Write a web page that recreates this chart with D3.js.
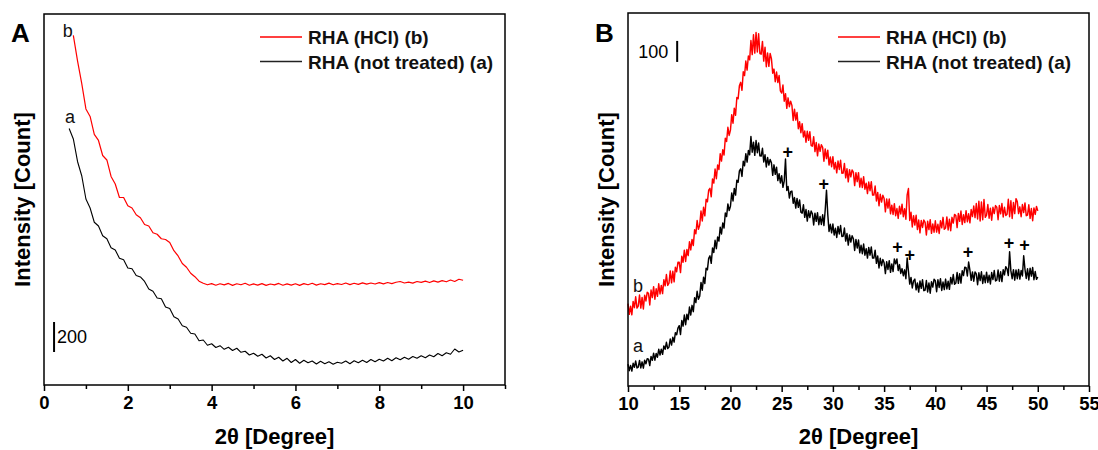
<!DOCTYPE html>
<html>
<head>
<meta charset="utf-8">
<script src="https://cdn.jsdelivr.net/npm/d3@7"></script>
<style>
  body { margin: 0; background: #fff; }
  svg { display: block; font-family: "Liberation Sans", Arial, sans-serif; }
</style>
</head>
<body>
<svg id="chart" width="1098" height="450"></svg>
<script>
// ---- panel A data (2theta step 0.1) ----
var aX0 = 0.6;
var aBlack = [1710,1640,1490,1395,1240,1180,1085,1060,995,975,915,900,845,835,780,775,730,720,690,640,
  625,580,575,520,510,455,440,395,385,345,340,295,300,265,275,250,262,238,252,230,
  245,218,225,200,212,192,205,180,195,170,185,160,178,150,170,145,165,148,160,140,
  158,142,155,138,152,145,160,142,162,148,165,150,170,155,172,160,178,162,182,168,
  185,172,190,178,195,182,200,188,210,195,215,205,240,220,232];
var bX0 = 0.7;
var aRed = [2330,2160,2010,1840,1790,1670,1630,1530,1500,1390,1340,1250,1250,1195,1180,1135,1115,1070,1060,1015,
  1005,975,970,950,895,860,810,785,745,722,692,678,668,676,665,675,667,677,664,675,
  668,678,665,674,666,676,664,673,667,677,665,674,666,675,664,676,668,678,666,675,
  669,679,668,676,670,680,669,678,671,681,672,680,673,682,674,683,676,685,690,680,
  686,679,690,684,692,683,694,686,696,688,700,690,705,698];

// ---- panel B data (2theta step 0.125, from 10 to 50; one row per degree) ----
var bStart = 10;
var bRed = [
  392,341,380,339,403,373,425,371,  380,433,371,422,367,432,405,446,
  441,386,457,421,473,413,463,427,  487,438,479,440,506,477,531,479,
  490,548,491,546,496,566,544,589,  589,540,618,589,647,593,650,621,
  687,648,698,669,744,725,788,746,  766,833,786,851,810,889,877,932,
  941,901,986,966,1033,987,1052,1031,  1106,1071,1125,1100,1180,1164,1232,1193,
  1218,1292,1251,1323,1289,1374,1368,1430,  1446,1408,1496,1478,1547,1504,1571,1553,
  1645,1578,1672,1585,1683,1590,1677,1583,  1580,1641,1547,1613,1520,1586,1522,1583,
  1559,1489,1509,1449,1495,1445,1478,1405,  1395,1433,1356,1392,1322,1372,1330,1356,
  1336,1264,1318,1266,1302,1225,1258,1206,  1249,1186,1214,1161,1213,1170,1211,1145,
  1142,1187,1116,1159,1096,1152,1117,1149,  1136,1070,1129,1083,1123,1052,1090,1044,
  1092,1033,1064,1015,1071,1031,1075,1013,  1014,1060,991,1034,972,1030,996,1029,
  1017,954,1016,973,1016,947,989,945,  997,937,966,916,971,930,973,909,
  909,952,881,922,858,913,876,908,  893,829,891,847,890,820,861,817,
  868,811,845,798,856,819,866,806,  844,794,910,940,788,827,757,811,
  766,813,745,790,729,788,755,790,  779,719,785,745,792,727,772,732,
  787,733,770,726,787,753,803,746,  752,805,743,794,739,803,776,817,
  812,754,822,784,833,769,816,778,  835,782,820,777,840,807,857,802,
  869,795,880,786,876,792,888,803,  814,864,799,847,789,851,821,859,
  851,792,859,820,869,805,851,812,  818,889,806,882,798,874,821,892,
  878,821,853,806,864,826,872,811,  814,863,798,845,787,848,817,855,
  834];
var bBlack = [
  104,73,98,71,108,89,119,86,  90,122,86,115,85,123,106,130,
  128,97,141,122,156,123,155,137,  175,147,175,151,191,175,208,178,
  185,224,195,232,209,254,244,276,  287,245,312,285,338,292,342,316,
  376,338,384,354,420,397,451,413,  428,493,456,518,488,561,553,608,
  620,584,657,636,694,654,710,690,  756,724,776,752,824,807,867,835,
  856,919,881,941,909,980,970,1024,  1034,998,1070,1049,1106,1066,1121,1101,
  1188,1113,1161,1098,1169,1111,1157,1096,  1095,1132,1067,1101,1043,1088,1052,1079,
  1063,1003,1053,1008,1042,978,1011,967,  1001,946,976,1081,931,950,895,925,
  928,870,897,847,893,851,886,828,  823,863,803,840,785,834,802,833,
  820,767,823,784,825,768,807,769,  815,764,838,932,817,736,770,729,
  771,719,751,707,760,724,764,712,  713,752,690,726,671,719,685,715,
  701,645,698,657,695,634,670,630,  676,623,654,609,660,623,662,609,
  609,647,584,619,562,608,573,602,  587,535,592,555,597,541,581,545,
  605,582,605,550,578,536,559,525,  553,511,609,547,485,517,467,500,
  509,458,491,447,500,465,506,454,  456,502,448,491,442,497,471,508,
  501,449,506,469,511,455,495,459,  509,462,499,460,517,486,531,484,
  490,540,489,535,490,549,526,566,  563,524,590,552,503,543,499,543,
  534,482,539,502,544,488,528,492,  542,493,527,486,540,507,550,500,
  504,552,499,544,497,554,529,568,  558,526,639,548,511,554,504,553,
  511,555,509,550,524,620,556,512,  558,505,561,523,564,506,545,508,
  519];

// "+" reflection markers on curve a
var plusX = [25.6, 29.1, 36.3, 37.5, 43.2, 47.2, 48.7];
var plusY = [1114, 962, 662, 624, 638, 681, 671];

var legendLabels = ["RHA (HCl) (b)", "RHA (not treated) (a)"];
var legendColors = ["#ff0000", "#222"];

var svg = d3.select("#chart");

function toPts(x0, step, ys) {
  return ys.map(function (v, i) { return [x0 + i * step, v]; });
}

function panel(opt) {
  var g = svg.append("g");
  var x = d3.scaleLinear().domain(opt.xDomain).range([opt.left, opt.right]);
  var y = d3.scaleLinear().domain(opt.yDomain).range([opt.bottom, opt.top]);
  var line = d3.line().x(function (d) { return x(d[0]); }).y(function (d) { return y(d[1]); });

  opt.series.forEach(function (s) {
    g.append("path").datum(s.pts)
      .attr("fill", "none").attr("stroke", s.color)
      .attr("stroke-width", s.width).attr("stroke-linejoin", "round")
      .attr("d", line);
  });

  // minor ticks
  g.append("g").attr("transform", "translate(0," + opt.bottom + ")")
    .call(d3.axisBottom(x).tickValues(opt.minor).tickSize(4).tickFormat(""))
    .call(function (a) { a.select(".domain").remove(); a.selectAll("line").attr("stroke-width", 1.5); });
  // major ticks
  var ax = g.append("g").attr("transform", "translate(0," + opt.bottom + ")")
    .call(d3.axisBottom(x).tickValues(opt.major).tickSize(6).tickPadding(5).tickFormat(d3.format("d")));
  ax.select(".domain").remove();
  ax.selectAll("line").attr("stroke-width", 1.5);
  ax.selectAll("text").attr("font-size", 18.5).attr("font-weight", "bold")
    .attr("fill", "#000").attr("font-family", "Liberation Sans, Arial, sans-serif");

  // frame
  g.append("rect").attr("x", opt.left).attr("y", opt.top)
    .attr("width", opt.right - opt.left).attr("height", opt.bottom - opt.top)
    .attr("fill", "none").attr("stroke", "#000").attr("stroke-width", 1.5);

  // axis titles
  g.append("text").attr("x", (opt.left + opt.right) / 2).attr("y", 444)
    .attr("text-anchor", "middle").attr("font-size", 22).attr("font-weight", "bold")
    .text("2θ [Degree]");
  g.append("text")
    .attr("transform", "translate(" + (opt.left - 14) + "," + ((opt.top + opt.bottom) / 2) + ") rotate(-90)")
    .attr("text-anchor", "middle").attr("font-size", 22).attr("font-weight", "bold")
    .text("Intensity [Count]");

  // panel letter
  g.append("text").attr("x", opt.left - 33).attr("y", 42)
    .attr("font-size", 26).attr("font-weight", "bold").text(opt.letter);

  // legend
  legendLabels.forEach(function (lab, i) {
    var ly = 37 + i * 24.5;
    g.append("line").attr("x1", opt.legX).attr("x2", opt.legX + 42)
      .attr("y1", ly).attr("y2", ly).attr("stroke", legendColors[i]).attr("stroke-width", 1.3);
    g.append("text").attr("x", opt.legX + 48).attr("y", ly + 7)
      .attr("font-size", 19).attr("font-weight", "bold").attr("fill", "#111").text(lab);
  });

  // scale bar
  var sb = opt.scaleBar;
  g.append("line").attr("x1", x(sb.x)).attr("x2", x(sb.x))
    .attr("y1", y(sb.y0)).attr("y2", y(sb.y0 + sb.size))
    .attr("stroke", "#000").attr("stroke-width", 2);
  g.append("text").attr("x", x(sb.x) + sb.dx).attr("y", (y(sb.y0) + y(sb.y0 + sb.size)) / 2 + 6.5)
    .attr("text-anchor", sb.dx > 0 ? "start" : "end")
    .attr("font-size", 18).text(sb.size);

  // curve labels
  opt.curveLabels.forEach(function (c) {
    g.append("text").attr("x", x(c.x)).attr("y", y(c.y))
      .attr("font-size", 18).attr("fill", "#111").text(c.t);
  });
  return { g: g, x: x, y: y };
}

panel({
  left: 44, right: 505, top: 14, bottom: 385,
  xDomain: [0, 11], yDomain: [0, 2473],
  major: [0, 2, 4, 6, 8, 10], minor: [1, 3, 5, 7, 9, 11],
  series: [
    { pts: toPts(aX0, 0.1, aBlack), color: "#000", width: 1.1 },
    { pts: toPts(bX0, 0.1, aRed), color: "#ff0000", width: 1.2 }
  ],
  letter: "A", legX: 260,
  scaleBar: { x: 0.24, y0: 220, size: 200, dx: 3 },
  curveLabels: [{ x: 0.45, y: 2320, t: "b" }, { x: 0.5, y: 1747, t: "a" }]
});

var pB = panel({
  left: 628, right: 1089, top: 13, bottom: 386,
  xDomain: [10, 55], yDomain: [0, 1776],
  major: d3.range(10, 56, 5), minor: d3.range(12.5, 55, 5),
  series: [
    { pts: toPts(bStart, 0.125, bBlack), color: "#000", width: 1.45 },
    { pts: toPts(bStart, 0.125, bRed), color: "#ff0000", width: 1.45 }
  ],
  letter: "B", legX: 838,
  scaleBar: { x: 14.8, y0: 1543, size: 100, dx: -9 },
  curveLabels: [{ x: 10.5, y: 448, t: "b" }, { x: 10.5, y: 162, t: "a" }]
});

pB.g.selectAll(".plus").data(plusX).enter().append("text")
  .attr("class", "plus")
  .attr("x", function (d) { return pB.x(d); })
  .attr("y", function (d, i) { return pB.y(plusY[i]) + 6; })
  .attr("text-anchor", "middle").attr("font-size", 18).attr("font-weight", "bold")
  .text("+");
</script>
</body>
</html>
